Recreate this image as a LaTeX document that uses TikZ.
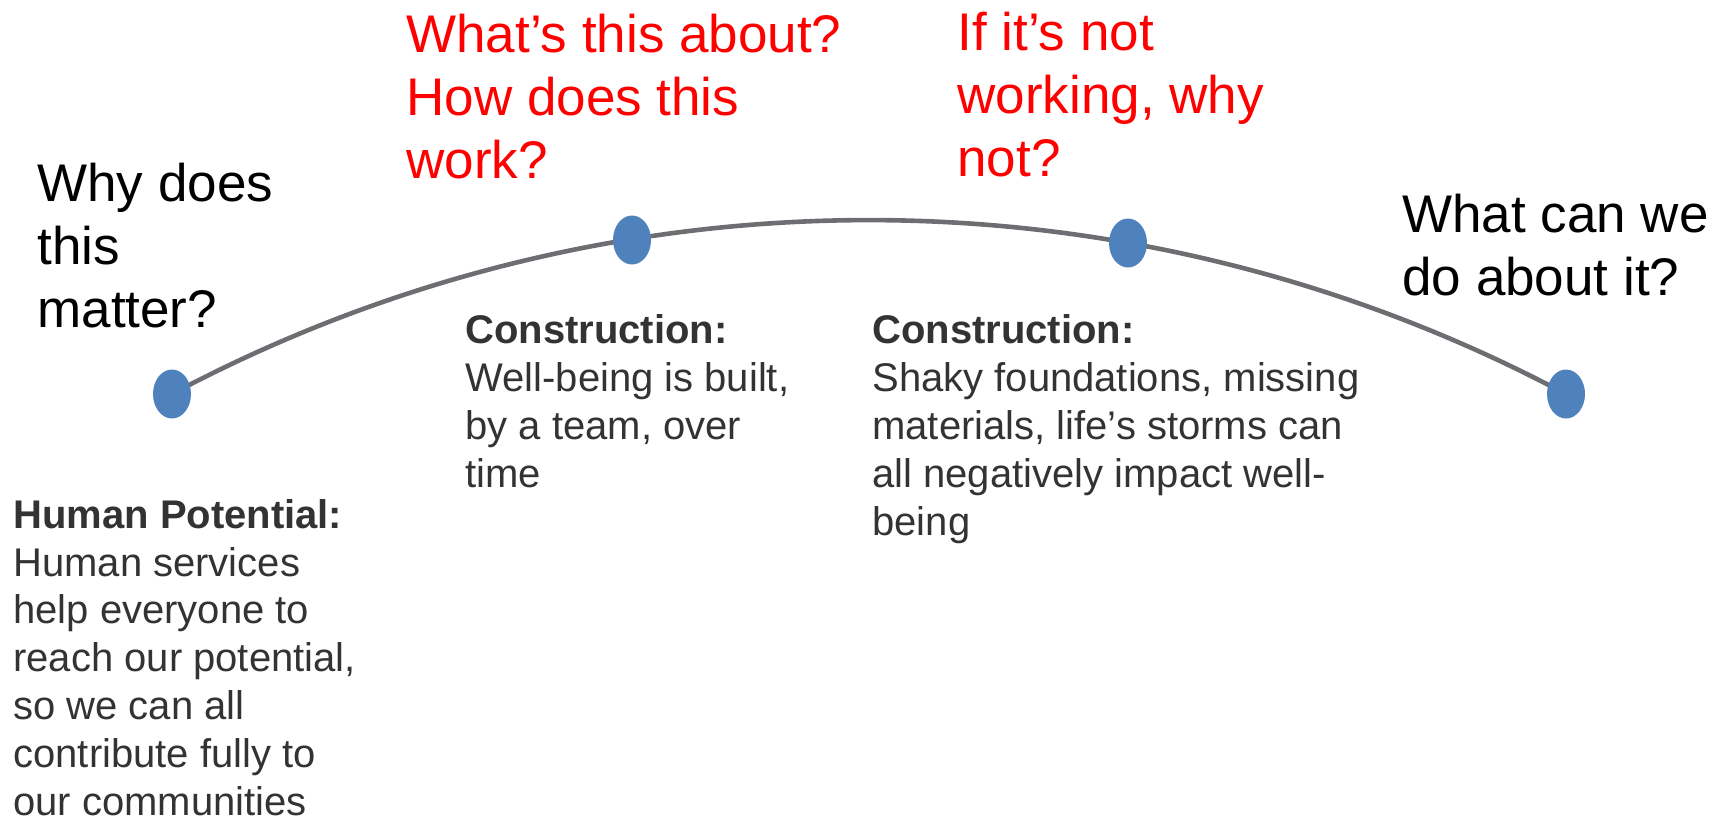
\documentclass[tikz,border=0pt]{standalone}
\usepackage{fontspec}
\setmainfont{Liberation Sans}
\usetikzlibrary{shapes.geometric}
\definecolor{dotblue}{HTML}{4F81BD}
\definecolor{arcgray}{HTML}{6D6E71}
\definecolor{bodygray}{HTML}{333333}
\definecolor{qred}{HTML}{FF0000}
\tikzset{
  bigq/.style={anchor=base west, align=left, inner sep=0pt, font=\fontsize{26.5}{31.5}\selectfont},
  body/.style={anchor=base west, align=left, inner sep=0pt, text=bodygray, font=\fontsize{20}{23.9}\selectfont},
  dotnode/.style={ellipse, fill=dotblue, draw=none, inner sep=0pt, minimum width=19pt, minimum height=24.5pt},
  curve/.style={draw=arcgray, line width=2.3pt}
}
\begin{document}
\begin{tikzpicture}[x=0.5pt,y=-0.5pt]
\useasboundingbox (0,0) rectangle (1727,819);
% arc through the dots
\coordinate (arcstart) at (172,394);
\draw[curve] (arcstart) arc[start angle=-118.03, end angle=-61.97, radius=1483];
% dots
\node[dotnode] (d1) at (172,394) {};
\node[dotnode] (d2) at (632,240) {};
\node[dotnode] (d3) at (1128,243) {};
\node[dotnode] (d4) at (1566,394) {};
% questions (anchor = baseline of last line)
\node[bigq, text=black] (q1) at (37,327) {Why does\\this\\matter?};
\node[bigq, text=qred] (q2) at (406,178) {What’s this about?\\How does this\\work?};
\node[bigq, text=qred] (q3) at (957,176) {If it’s not\\working, why\\not?};
\node[bigq, text=black] (q4) at (1402,295) {What can we\\do about it?};
% body texts
\node[body] (b1) at (13,815) {\textbf{Human Potential:}\\Human services\\help everyone to\\reach our potential,\\so we can all\\contribute fully to\\our communities};
\node[body] (b2) at (465,487) {\textbf{Construction:}\\Well-being is built,\\by a team, over\\time};
\node[body] (b3) at (872,535) {\textbf{Construction:}\\Shaky foundations, missing\\materials, life’s storms can\\all negatively impact well-\\being};
\end{tikzpicture}
\end{document}
